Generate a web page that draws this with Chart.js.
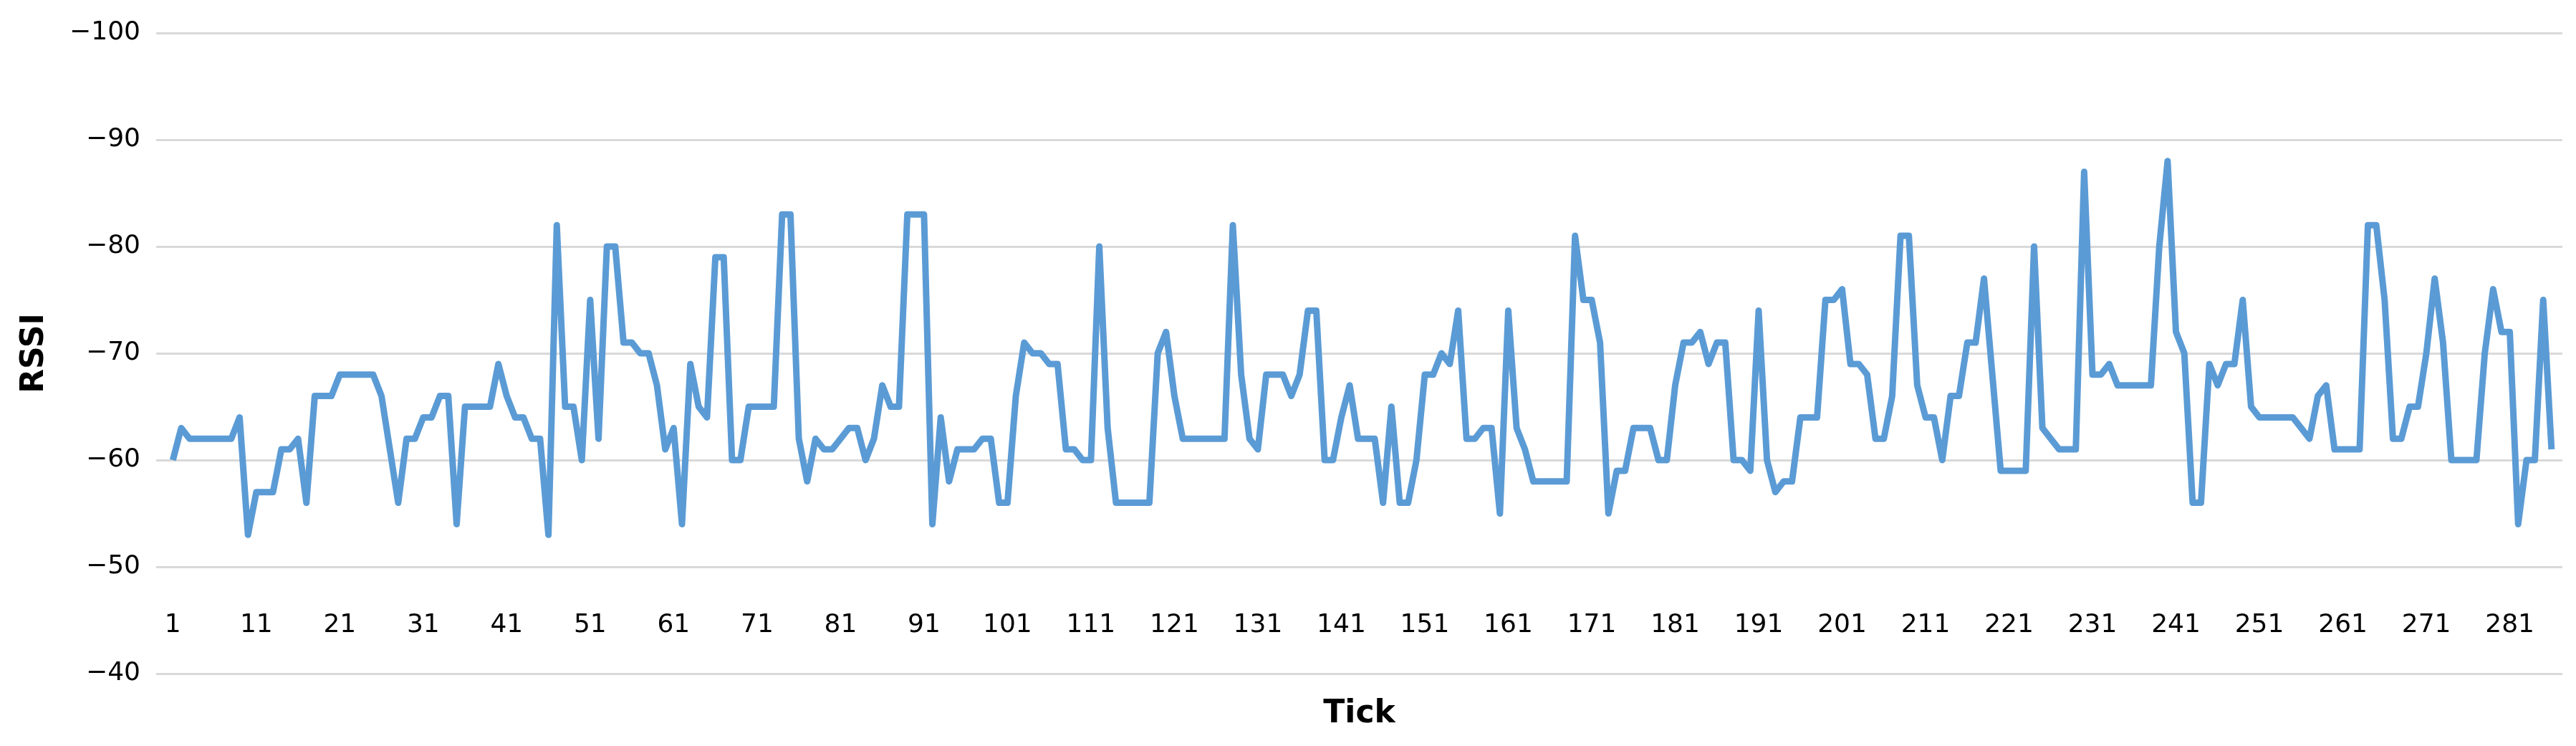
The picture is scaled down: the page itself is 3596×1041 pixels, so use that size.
<!DOCTYPE html>
<html><head><meta charset="utf-8">
<script src="https://cdn.jsdelivr.net/npm/chart.js@4/dist/chart.umd.min.js"></script>
<style>html,body{margin:0;padding:0;background:#fff;}#w{width:3596px;height:1041px;}</style>
</head><body><div id="w"><canvas id="c" width="3596" height="1041"></canvas></div>
<script>
const rssi = [
-60,-63,-62,-62,-62,-62,-62,-62,-64,-53,
-57,-57,-57,-61,-61,-62,-56,-66,-66,-66,
-68,-68,-68,-68,-68,-66,-61,-56,-62,-62,
-64,-64,-66,-66,-54,-65,-65,-65,-65,-69,
-66,-64,-64,-62,-62,-53,-82,-65,-65,-60,
-75,-62,-80,-80,-71,-71,-70,-70,-67,-61,
-63,-54,-69,-65,-64,-79,-79,-60,-60,-65,
-65,-65,-65,-83,-83,-62,-58,-62,-61,-61,
-62,-63,-63,-60,-62,-67,-65,-65,-83,-83,
-83,-54,-64,-58,-61,-61,-61,-62,-62,-56,
-56,-66,-71,-70,-70,-69,-69,-61,-61,-60,
-60,-80,-63,-56,-56,-56,-56,-56,-70,-72,
-66,-62,-62,-62,-62,-62,-62,-82,-68,-62,
-61,-68,-68,-68,-66,-68,-74,-74,-60,-60,
-64,-67,-62,-62,-62,-56,-65,-56,-56,-60,
-68,-68,-70,-69,-74,-62,-62,-63,-63,-55,
-74,-63,-61,-58,-58,-58,-58,-58,-81,-75,
-75,-71,-55,-59,-59,-63,-63,-63,-60,-60,
-67,-71,-71,-72,-69,-71,-71,-60,-60,-59,
-74,-60,-57,-58,-58,-64,-64,-64,-75,-75,
-76,-69,-69,-68,-62,-62,-66,-81,-81,-67,
-64,-64,-60,-66,-66,-71,-71,-77,-68,-59,
-59,-59,-59,-80,-63,-62,-61,-61,-61,-87,
-68,-68,-69,-67,-67,-67,-67,-67,-80,-88,
-72,-70,-56,-56,-69,-67,-69,-69,-75,-65,
-64,-64,-64,-64,-64,-63,-62,-66,-67,-61,
-61,-61,-61,-82,-82,-75,-62,-62,-65,-65,
-70,-77,-71,-60,-60,-60,-60,-70,-76,-72,
-72,-54,-60,-60,-75,-61
];
const ticks = rssi.map((v,i)=>i+1);
const xTickLabels = ticks.filter(t=>t%10===1);
const yTickValues = [-100,-90,-80,-70,-60,-50,-40];
const xLabelLevel = -44.5;
const xTitle = 'Tick', yTitle = 'RSSI';
const points = rssi.map((v,i)=>({x:ticks[i], y:v}));
const F = 'DejaVu Sans';
const xLabels = {
  id:'xLabels',
  afterDatasetsDraw(chart){
    const ctx = chart.ctx, xs = chart.scales.x, ys = chart.scales.y;
    ctx.save();
    ctx.fillStyle = '#000';
    ctx.font = '36px "' + F + '"';
    ctx.textAlign = 'center'; ctx.textBaseline = 'middle';
    const y = ys.getPixelForValue(xLabelLevel);
    xTickLabels.forEach(v=>ctx.fillText(String(v), xs.getPixelForValue(v), y));
    ctx.restore();
  }
};
new Chart(document.getElementById('c'), {
  type:'line',
  data:{datasets:[{data:points, borderColor:'#5b9bd5', borderWidth:9, pointRadius:0, tension:0, fill:false, borderJoinStyle:'round'}]},
  options:{
    responsive:false, animation:false, devicePixelRatio:1,
    layout:{padding:{top:46,right:19,bottom:0,left:22}},
    plugins:{legend:{display:false},tooltip:{enabled:false}},
    scales:{
      x:{type:'linear', min:-1, max:287.3,
        afterBuildTicks:s=>{s.ticks = xTickLabels.map(v=>({value:v}));},
        afterFit:s=>{s.height=101;},
        grid:{display:false, drawTicks:false}, border:{display:false},
        ticks:{display:false},
        title:{display:true,text:xTitle,color:'#000',font:{family:F,size:44,weight:'bold'},padding:{top:0,bottom:18}}
      },
      y:{reverse:true, min:-100, max:-40,
        afterBuildTicks:s=>{s.ticks = yTickValues.map(v=>({value:v}));},
        afterFit:s=>{s.width=196;},
        grid:{color:'#d9d9d9', lineWidth:3, drawTicks:false}, border:{display:false},
        ticks:{padding:22, color:'#000', font:{family:F,size:36}, callback:v=>String(v).replace('-','\u2212')},
        title:{display:true,text:yTitle,color:'#000',font:{family:F,size:44,weight:'bold'},padding:{top:0,bottom:8}}
      }
    }
  },
  plugins:[xLabels]
});
</script></body></html>
